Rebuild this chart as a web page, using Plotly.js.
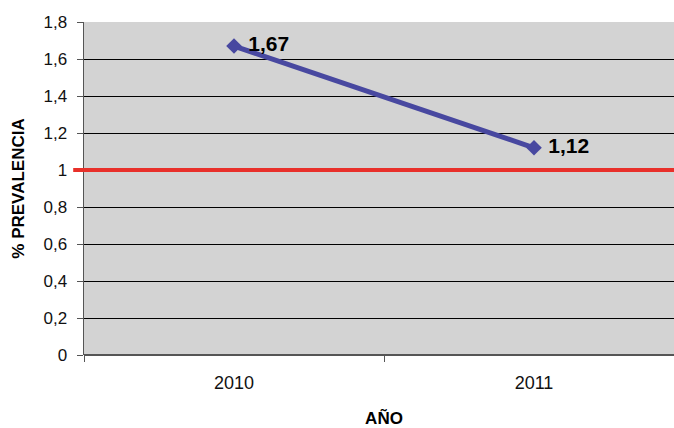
<!DOCTYPE html>
<html>
<head>
<meta charset="utf-8">
<script src="https://cdn.plot.ly/plotly-3.0.1.min.js"></script>
<style>html,body{margin:0;padding:0;overflow:hidden;background:#fff;}</style>
</head>
<body>
<div id="chart"></div>
<script>
const years = ["2010", "2011"];
const prevalence = [1.67, 1.12];
const labels = ["1,67", "1,12"];
const threshold = 1;
const yTicks = [0, 0.2, 0.4, 0.6, 0.8, 1, 1.2, 1.4, 1.6, 1.8];

const trace = {
  x: years,
  y: prevalence,
  type: "scatter",
  mode: "lines+markers+text",
  text: labels.map(t => " " + t),
  textposition: "middle right",
  textfont: {family: "Liberation Sans, Arial, sans-serif", size: 21, color: "#000", weight: "bold"},
  line: {color: "#4848A0", width: 5},
  marker: {symbol: "diamond", size: 12, color: "#4848A0"},
  cliponaxis: false,
  hoverinfo: "none"
};

const layout = {
  width: 690,
  height: 428,
  margin: {l: 84, r: 6, t: 22, b: 73},
  paper_bgcolor: "#ffffff",
  plot_bgcolor: "#D3D3D3",
  separators: ",.",
  showlegend: false,
  font: {family: "Liberation Sans, Arial, sans-serif", size: 16, color: "#000"},
  xaxis: {
    type: "category",
    range: [-0.5, 1.5],
    tickson: "boundaries",
    ticks: "outside",
    ticklen: 6,
    tickcolor: "#555",
    showgrid: false,
    zeroline: false,
    showline: false,
    tickfont: {size: 18, color: "#111"},
    ticklabelstandoff: 15,
    title: {text: "<b>AÑO</b>", font: {size: 17}, standoff: 20}
  },
  yaxis: {
    range: [0, 1.8],
    tickvals: yTicks,
    ticks: "outside",
    ticklen: 6,
    tickcolor: "#555",
    showgrid: true,
    gridcolor: "#000",
    gridwidth: 1,
    zeroline: true,
    zerolinecolor: "#555",
    zerolinewidth: 1.5,
    showline: true,
    linecolor: "#555",
    linewidth: 1.5,
    tickfont: {size: 17, color: "#111"},
    ticklabelstandoff: 6,
    title: {text: "<b>% PREVALENCIA</b>", font: {size: 17}, standoff: 14}
  },
  shapes: [{
    type: "line",
    xref: "paper", yref: "y",
    x0: -0.018, x1: 1,
    y0: threshold, y1: threshold,
    line: {color: "#E8302A", width: 4}
  }]
};

Plotly.newPlot("chart", [trace], layout, {displayModeBar: false, staticPlot: true});
</script>
</body>
</html>
